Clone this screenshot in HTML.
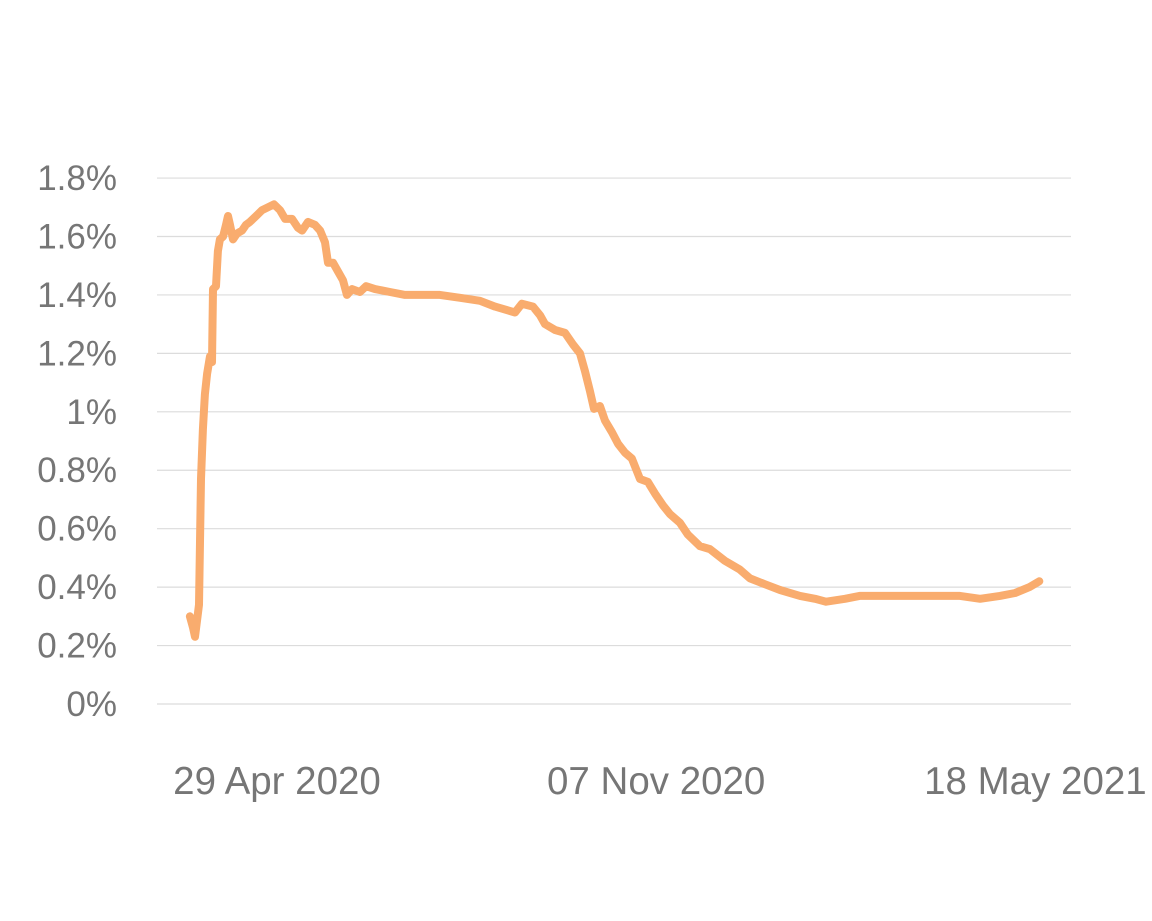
<!DOCTYPE html>
<html><head><meta charset="utf-8"><style>
html,body{margin:0;padding:0;background:#fff;width:1152px;height:921px;overflow:hidden}
svg text{font-family:"Liberation Sans",sans-serif;fill:#767676}
</style></head><body>
<svg id="chart" width="1152" height="921" xmlns="http://www.w3.org/2000/svg">
<g id="grid"></g>
<g id="yt"></g>
<g id="xt"></g>
<path id="line" fill="none" stroke="#F9AC6E" stroke-width="8" stroke-linejoin="round" stroke-linecap="round"/>
</svg>
<script>
// day offsets from 29 Apr 2020
const days = [-44.1,-42.5,-41.5,-39.5,-38.5,-37.5,-36.5,-35.4,-33.9,-32.9,-32.4,-30.9,-29.9,-28.9,-27.3,-25.8,-24.8,-23.8,-22.3,-20.3,-17.7,-15.7,-13.7,-10.6,-7.6,-4.6,-1.5,1.5,4.1,7.6,10.6,12.7,15.7,19.2,21.8,24.3,25.8,28.4,30.9,33.4,35.4,38,42,45.1,49.6,57.2,64.8,72.4,82.5,92.7,102.8,110.4,120.5,124,129.6,133.2,135.7,140.8,145.8,149.9,153.4,155.9,158.5,160.5,163.5,166.1,169.6,172.7,176.2,179.7,183.8,187.8,191.4,195.4,199,204,208,214.2,219.2,226.8,234.4,239.5,247,254.7,264.8,272.4,278,287.6,295,305.3,315.4,325.6,335.7,345.8,356,366,373.7,381,386];
const vals = [0.30,0.26,0.23,0.34,0.77,0.94,1.06,1.13,1.19,1.17,1.42,1.43,1.55,1.59,1.60,1.64,1.67,1.64,1.59,1.61,1.62,1.64,1.65,1.67,1.69,1.70,1.71,1.69,1.66,1.66,1.63,1.62,1.65,1.64,1.62,1.58,1.51,1.51,1.48,1.45,1.40,1.42,1.41,1.43,1.42,1.41,1.40,1.40,1.40,1.39,1.38,1.36,1.34,1.37,1.36,1.33,1.30,1.28,1.27,1.23,1.20,1.14,1.07,1.01,1.02,0.97,0.93,0.89,0.86,0.84,0.77,0.76,0.72,0.68,0.65,0.62,0.58,0.54,0.53,0.49,0.46,0.43,0.41,0.39,0.37,0.36,0.35,0.36,0.37,0.37,0.37,0.37,0.37,0.37,0.36,0.37,0.38,0.40,0.42];
const yTicks = [0,0.2,0.4,0.6,0.8,1,1.2,1.4,1.6,1.8];
const yLabels = ["0%","0.2%","0.4%","0.6%","0.8%","1%","1.2%","1.4%","1.6%","1.8%"];
const xTickDays = [0,192,384];
const xLabels = ["29 Apr 2020","07 Nov 2020","18 May 2021"];
const NS="http://www.w3.org/2000/svg";
const xs = d => 277 + d*1.975;
const ys = v => 704 - v*292.2;
const grid=document.getElementById('grid'), yt=document.getElementById('yt'), xt=document.getElementById('xt');
yTicks.forEach((v,i)=>{
  const l=document.createElementNS(NS,'line');
  l.setAttribute('x1',157);l.setAttribute('x2',1071);l.setAttribute('y1',ys(v));l.setAttribute('y2',ys(v));
  l.setAttribute('stroke','#dcdcdc');l.setAttribute('stroke-width','1.2');
  
  
  grid.appendChild(l);
  const t=document.createElementNS(NS,'text');
  t.setAttribute('x',117);t.setAttribute('y',ys(v)+12);t.setAttribute('text-anchor','end');
  t.setAttribute('font-size','35');
  t.textContent=yLabels[i];
  
  
  yt.appendChild(t);
});
xTickDays.forEach((d,i)=>{
  const t=document.createElementNS(NS,'text');
  t.setAttribute('x',xs(d));t.setAttribute('y',794);t.setAttribute('text-anchor','middle');
  t.setAttribute('font-size','38.5');
  t.textContent=xLabels[i];
  
  
  xt.appendChild(t);
});
document.getElementById('line').setAttribute('d', days.map((d,i)=>(i?'L':'M')+xs(d).toFixed(1)+','+ys(vals[i]).toFixed(1)).join(''));
</script>
</body></html>
